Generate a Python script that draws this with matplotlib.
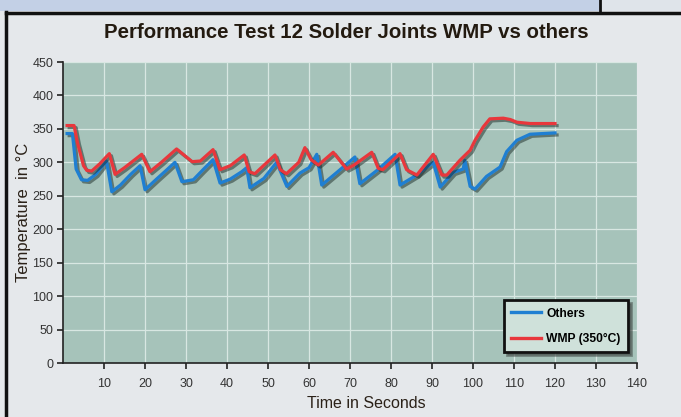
import matplotlib
matplotlib.use("Agg")
import matplotlib.pyplot as plt
import matplotlib.patheffects as pe
from matplotlib.patches import Rectangle
from matplotlib.lines import Line2D

plt.rcParams['font.family'] = ['Liberation Sans Narrow', 'DejaVu Sans Condensed',
                               'Liberation Sans', 'DejaVu Sans']

# Data
others_t = [1, 2.3, 3.2, 4.5, 6, 8, 10.6, 11.9, 14, 16.5, 18.8, 20, 23, 25, 27.3, 29,
            31.8, 34, 36.6, 38.3, 40.8, 43.6, 44.8, 45.6, 49, 52.1, 54.6, 57.8, 60, 61.9,
            63.1, 67, 71.2, 72.4, 76.6, 81, 82.2, 86, 90.3, 92, 95.2, 97.6, 98, 99.3,
            100.5, 103.3, 106.6, 108.2, 110.7, 113.9, 120]
others_temp = [343, 343, 290, 274, 273, 282, 302, 256, 266, 282, 295, 259, 276, 287, 300, 271,
               274, 288, 304, 269, 275, 286, 292, 262, 276, 300, 264, 284, 292, 312,
               266, 286, 308, 268, 288, 312, 266, 280, 300, 263, 285, 290, 303, 264,
               260, 279, 293, 316, 333, 342, 344]

wmp_t = [1, 2.7, 3.5, 5, 5.8, 7, 9, 11.3, 12.7, 15, 19.2, 21.2, 24, 27.7, 31.5, 33.5,
         36.6, 38.3, 40.8, 44.2, 45.4, 46.8, 51.7, 53, 54.5, 57.5, 59, 60.5, 62.3, 65.9,
         69.2, 71, 75.3, 76.9, 78, 82.2, 83.8, 86.3, 90.3, 92.4, 93.6, 96.8, 99.3, 100.5,
         102.5, 104.1, 107.4, 109.1, 110.7, 114, 120]
wmp_temp = [355, 355, 330, 295, 288, 287, 298, 313, 282, 292, 312, 286, 300, 320, 301, 302,
            319, 289, 295, 311, 286, 283, 311, 289, 283, 300, 322, 304, 296, 315,
            290, 296, 315, 291, 289, 313, 289, 281, 312, 281, 281, 303, 318, 333,
            353, 365, 366, 364, 360, 358, 358]

x_ticks = [10, 20, 30, 40, 50, 60, 70, 80, 90, 100, 110, 120, 130, 140]
y_ticks = [0, 50, 100, 150, 200, 250, 300, 350, 400, 450]

fig = plt.figure(figsize=(6.81, 4.17), dpi=100, facecolor='#e5e8eb')

# page frame decorations
fig.patches.append(Rectangle((0, 1 - 11 / 417), 1, 11 / 417, transform=fig.transFigure,
                             facecolor='#c3d0e6', edgecolor='none', zorder=0))
fig.patches.append(Rectangle((600 / 681, 1 - 11 / 417), 81 / 681, 11 / 417, transform=fig.transFigure,
                             facecolor='#dfe4ea', edgecolor='none', zorder=0))
fig.lines.append(Line2D([6 / 681, 1], [1 - 13 / 417, 1 - 13 / 417], transform=fig.transFigure,
                        color='#111111', linewidth=2.5))
fig.lines.append(Line2D([6 / 681, 6 / 681], [0, 1 - 12 / 417], transform=fig.transFigure,
                        color='#111111', linewidth=2.5))
fig.lines.append(Line2D([600 / 681, 600 / 681], [1 - 12 / 417, 1], transform=fig.transFigure,
                        color='#111111', linewidth=2))

ax = fig.add_axes([63 / 681, 1 - 363 / 417, 574 / 681, 301 / 417])
ax.set_facecolor('#a6c3ba')

shadow = [pe.SimpleLineShadow(offset=(1.5, -1.5), shadow_color='#1a2a26', alpha=0.5), pe.Normal()]
ax.plot(others_t, others_temp, color='#1f7fd2', linewidth=2.3, label='Others',
        path_effects=shadow, solid_joinstyle='round')
ax.plot(wmp_t, wmp_temp, color='#e8373c', linewidth=2.3, label='WMP (350°C)',
        path_effects=shadow, solid_joinstyle='round')

ax.set_xlim(0, 140)
ax.set_ylim(0, 450)
ax.set_xticks(x_ticks)
ax.set_yticks(y_ticks)
ax.grid(True, color='#d8e7e2', linewidth=0.9)
ax.set_axisbelow(True)
for s in ['top', 'right']:
    ax.spines[s].set_visible(False)
for s in ['left', 'bottom']:
    ax.spines[s].set_color('#222222')
    ax.spines[s].set_linewidth(1.2)
ax.tick_params(direction='out', length=4, width=1.2, color='#222222',
               labelsize=9, labelcolor='#333333', pad=3)
ax.tick_params(axis='x', pad=7)

ax.set_xlabel('Time in Seconds', fontsize=11.5, color='#2a2118', labelpad=4,
              x=(366 - 63) / 574)
ax.set_ylabel('Temperature  in °C', fontsize=12, color='#2a2118', labelpad=1)
fig.text(346 / 681, 1 - 32 / 417, 'Performance Test 12 Solder Joints WMP vs others',
         ha='center', va='center', fontsize=14.7, fontweight='bold', color='#231a10')

leg = ax.legend(loc='lower right', bbox_to_anchor=(0.984, 0.036), borderaxespad=0,
                fancybox=False, shadow=True, facecolor='#cfe1da', edgecolor='#111111',
                framealpha=1, prop={'weight': 'bold', 'size': 8.7}, handlelength=2.5,
                handletextpad=0.4, labelspacing=1.1, borderpad=0.6)
leg.get_frame().set_linewidth(2)
for line in leg.get_lines():
    line.set_path_effects([])
    line.set_linewidth(2.4)

fig.savefig('out.png', dpi=100, facecolor=fig.get_facecolor())
